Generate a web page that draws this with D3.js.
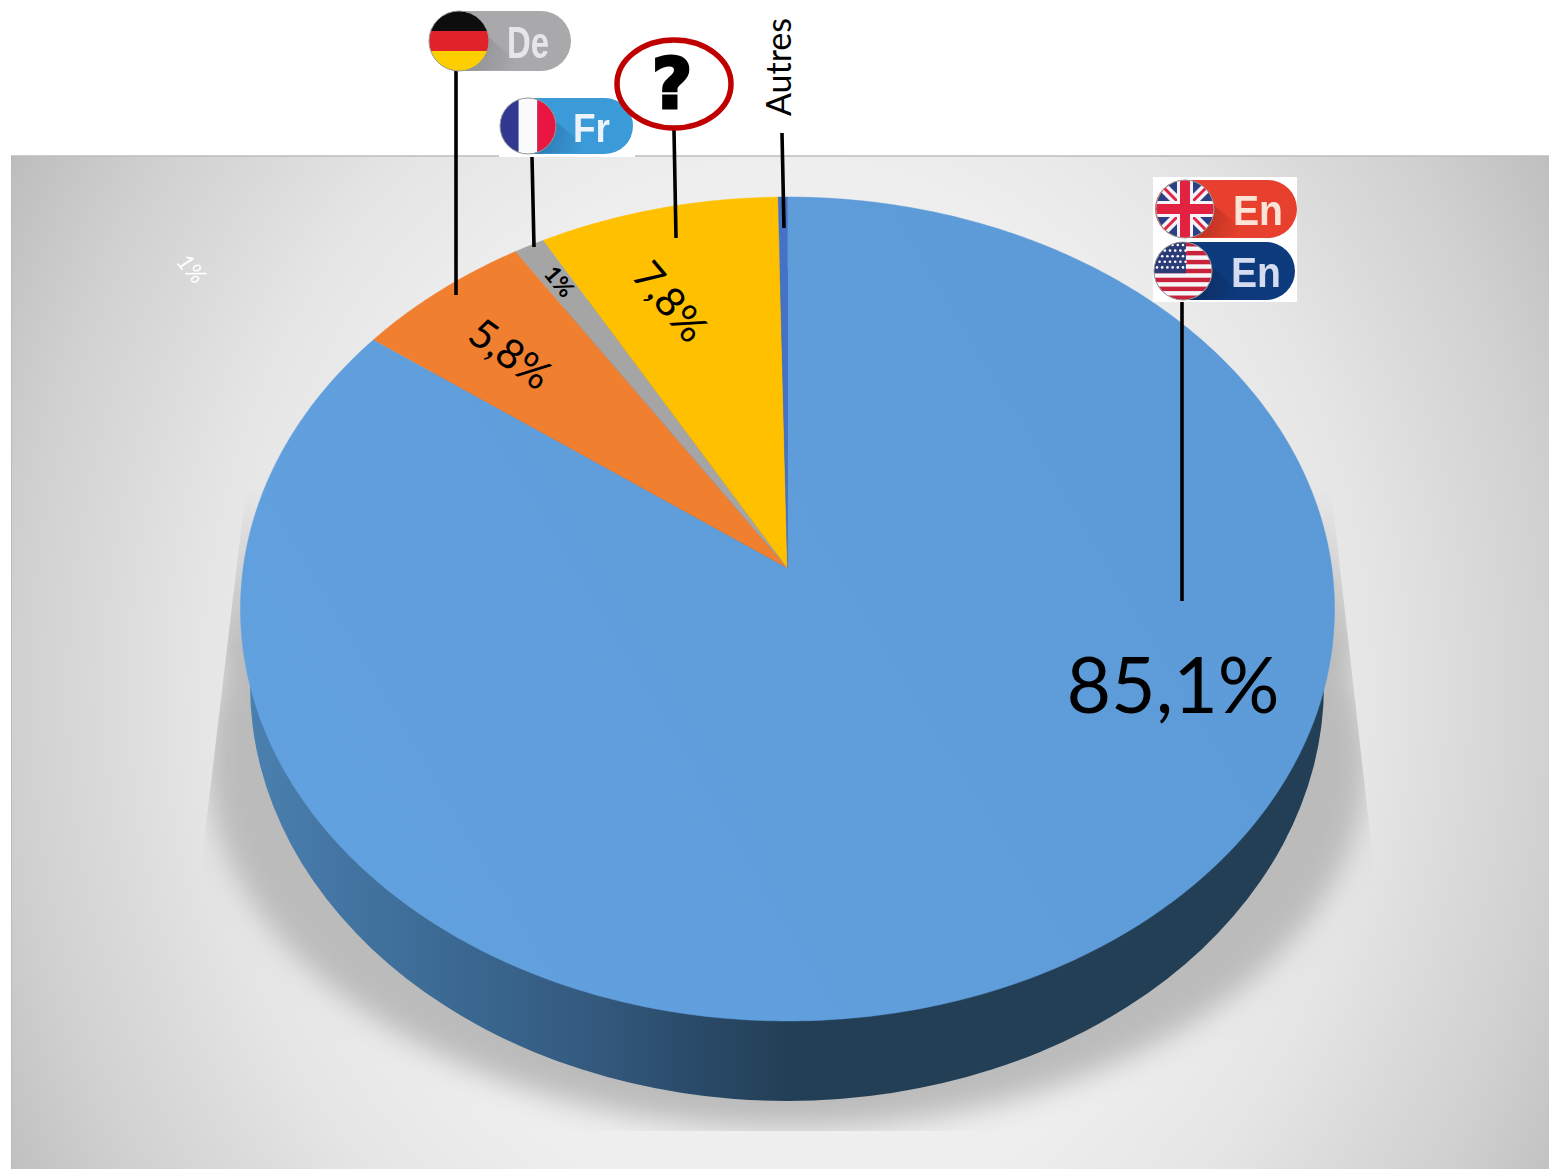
<!DOCTYPE html>
<html><head><meta charset="utf-8">
<script src="https://cdn.jsdelivr.net/npm/d3@7"></script>
<style>html,body{margin:0;padding:0;background:#fff}svg{display:block}</style>
</head><body><svg id="c" width="1549" height="1169"></svg>
<script>
const languages = ["En", "De", "Fr", "?", "Autres"];
const shares = [85.1, 5.8, 1, 7.8, 0.3];
const sliceColors = ["#5b9bd5", "#f07f30", "#a5a5a5", "#ffc000", "#4472c4"];
const valueLabels = ["85,1%", "5,8%", "1%", "7,8%"];
const ghostLabel = "1%";
const otherLabel = "Autres";

const svg = d3.select("#c");
const defs = svg.append("defs");
const F = "Lato, 'Open Sans', sans-serif";

function lin(id, x1, x2, stops, y1 = 0, y2 = 0) {
  const g = defs.append("linearGradient").attr("id", id).attr("gradientUnits", "userSpaceOnUse")
    .attr("x1", x1).attr("x2", x2).attr("y1", y1).attr("y2", y2);
  stops.forEach(s => g.append("stop").attr("offset", s[0]).attr("stop-color", s[1]));
}
// background plate
const bg = defs.append("radialGradient").attr("id", "bg").attr("gradientUnits", "userSpaceOnUse")
  .attr("cx", 0).attr("cy", 0).attr("r", 1)
  .attr("gradientTransform", "translate(787,690) scale(900,1050)");
[[0, "#f3f3f3"], [.5, "#eeeeee"], [.654, "#e5e5e5"], [.74, "#dcdcdc"], [.86, "#d0d0d0"], [1, "#bdbdbd"]]
  .forEach(s => bg.append("stop").attr("offset", s[0]).attr("stop-color", s[1]));
svg.append("rect").attr("x", 11).attr("y", 156).attr("width", 1538).attr("height", 1013).attr("fill", "url(#bg)");
svg.append("line").attr("x1", 11).attr("x2", 1549).attr("y1", 156).attr("y2", 156).attr("stroke", "#bdbdbd").attr("stroke-width", 1.5);
svg.append("line").attr("x1", 11.5).attr("x2", 11.5).attr("y1", 156).attr("y2", 1169).attr("stroke", "#b8b8b8").attr("stroke-width", 1);

// floor shadow
defs.append("filter").attr("id", "blur").attr("x", "-20%").attr("y", "-20%").attr("width", "140%").attr("height", "140%")
  .append("feGaussianBlur").attr("stdDeviation", 14);
defs.append("clipPath").attr("id", "shadowClip").append("polygon")
  .attr("points", "247,480 1330,480 1372,850 1372,1131 203,1131 203,850");
lin("fade", 0, 0, [[0, "#000"], [1, "#fff"]], 490, 650);
defs.append("mask").attr("id", "fadeMask").attr("maskUnits", "userSpaceOnUse")
  .attr("x", 0).attr("y", 0).attr("width", 1549).attr("height", 1169)
  .append("rect").attr("width", 1549).attr("height", 1169).attr("fill", "url(#fade)");
const shadow = svg.append("g").attr("clip-path", "url(#shadowClip)").append("g").attr("mask", "url(#fadeMask)").append("g").attr("filter", "url(#blur)");
shadow.append("ellipse").attr("cx", 787).attr("cy", 760).attr("rx", 580).attr("ry", 368).attr("fill", "#bbbbbb");
shadow.append("ellipse").attr("cx", 787).attr("cy", 620).attr("rx", 570).attr("ry", 430).attr("fill", "#bbbbbb");

// side wall
lin("side", 245, 1330, [[0, "#4a80b0"], [.19, "#3b6993"], [.33, "#33587c"], [.42, "#294a68"], [.5, "#233f56"], [1, "#233f56"]]);
svg.append("ellipse").attr("cx", 787).attr("cy", 685).attr("rx", 537).attr("ry", 416).attr("fill", "url(#side)");

// perspective projection of the pie disc
const apex = [787.5, 568], persp = -0.0995, scaleV = 407.9, scaleU = 544.3;
function project(angle, r) {
  const u = r * Math.sin(angle), v = -r * Math.cos(angle), w = 1 + persp * v;
  return [apex[0] + scaleU * u / w, apex[1] + scaleV * v / w];
}
const pie = d3.pie().sort(null).value(d => d.share);
const arcs = pie(languages.map((l, i) => ({ lang: l, share: shares[i], color: sliceColors[i] })));
const line = d3.line();
function wedge(d) {
  const n = Math.max(4, Math.ceil((d.endAngle - d.startAngle) * 90));
  const pts = d3.range(n + 1).map(i => project(d.startAngle + (d.endAngle - d.startAngle) * i / n, 1));
  return line([project(0, 0), ...pts]) + "Z";
}
lin("top", 300, 1300, [[0, "#62a1df"], [1, "#5b9ad6"]], 900, 300);
svg.append("g").selectAll("path").data(arcs).join("path")
  .attr("d", wedge)
  .attr("fill", (d, i) => i === 0 ? "url(#top)" : d.data.color)
  .attr("stroke", (d, i) => i === 0 ? "url(#top)" : d.data.color).attr("stroke-width", .5);

// value labels
function label(txt, x, y, size, rot, extra = {}) {
  const t = svg.append("text").attr("transform", `translate(${x},${y}) rotate(${rot})`)
    .attr("text-anchor", "middle").attr("dominant-baseline", "central")
    .attr("font-family", F).attr("font-size", size).attr("fill", "#000").text(txt);
  Object.entries(extra).forEach(([k, v]) => t.attr(k, v));
  return t;
}
label(valueLabels[0], 1173, 683, 77, 0);
label(valueLabels[1], 511, 353, 41, 36);
label(valueLabels[2], 560, 281, 23, 50, { "font-weight": 700 });
label(valueLabels[3], 671, 301, 41, 50);
label(ghostLabel, 192, 268, 23, 50, { fill: "#fff", "font-style": "italic" });
label(otherLabel, 777, 67, 34, -90);

// leader lines
const leaders = [[456, 70, 456, 295], [532, 157, 534, 247], [674, 130, 676, 238], [782, 133, 784, 228], [1182, 302, 1182, 601]];
svg.append("g").selectAll("line").data(leaders).join("line")
  .attr("x1", d => d[0]).attr("y1", d => d[1]).attr("x2", d => d[2]).attr("y2", d => d[3])
  .attr("stroke", "#000").attr("stroke-width", 3.6);

// language badges
defs.append("filter").attr("id", "soft").attr("x", "-5%").attr("y", "-5%").attr("width", "110%").attr("height", "110%")
  .append("feGaussianBlur").attr("stdDeviation", .6);
const badges = svg.append("g");
let cid = 0;
function badge(x, y, w, h, color, dark, cx, cy, r, text, textColor, paint, tx, tw) {
  const b = badges.append("g").attr("filter", "url(#soft)");
  b.append("rect").attr("x", x).attr("y", y).attr("width", w).attr("height", h).attr("rx", h / 2).attr("fill", color);
  const id = "b" + (cid++);
  const gid = "g" + id;
  lin(gid, cx, cx + r + 30, [[0, dark], [1, color]], cy, cy + 16);
  b.append("path").attr("d", `M${cx},${cy - r}L${cx + r + 36},${cy + r - 2}L${cx},${cy + r}Z`).attr("fill", `url(#${gid})`);
  b.append("text").attr("x", tx).attr("y", y + h / 2 + 1).attr("dominant-baseline", "central")
    .attr("font-family", "'Liberation Sans',sans-serif").attr("font-weight", 700)
    .attr("textLength", tw).attr("lengthAdjust", "spacingAndGlyphs")
    .attr("font-size", h * .74).attr("fill", textColor).text(text);
  defs.append("clipPath").attr("id", id).append("circle").attr("cx", cx).attr("cy", cy).attr("r", r);
  const g = b.append("g").attr("clip-path", `url(#${id})`);
  paint(g, cx - r, cy - r, r * 2);
  b.append("circle").attr("cx", cx).attr("cy", cy).attr("r", r).attr("fill", "none").attr("stroke", "#999").attr("stroke-width", 1);
}
function R(g, x, y, w, h, f) { g.append("rect").attr("x", x).attr("y", y).attr("width", w).attr("height", h).attr("fill", f); }

badge(429, 11, 142, 60, "#a9a9ab", "#8a8a8d", 459, 41, 30, "De", "#e6e6e8", (g, x, y, s) => {
  R(g, x, y, s, s / 3, "#0a0a0a"); R(g, x, y + s / 3, s, s / 3, "#e2232a"); R(g, x, y + 2 * s / 3, s, s / 3, "#fdcf00");
}, 507, 42);

badges.append("rect").attr("x", 499).attr("y", 97).attr("width", 136).attr("height", 60).attr("fill", "#fff");
badge(500, 98, 133, 56, "#3a9bd8", "#2a6fa8", 528, 126, 28, "Fr", "#eef2fa", (g, x, y, s) => {
  R(g, x, y, s / 3, s, "#33398f"); R(g, x + s / 3, y, s / 3, s, "#fbfbfd"); R(g, x + 2 * s / 3, y, s / 3, s, "#e8173f");
}, 573, 37);

// unknown
svg.append("ellipse").attr("cx", 674).attr("cy", 84).attr("rx", 57).attr("ry", 44)
  .attr("fill", "#fff").attr("stroke", "#c00000").attr("stroke-width", 5.5);
svg.append("text").attr("x", 672).attr("y", 84).attr("text-anchor", "middle").attr("dominant-baseline", "central")
  .attr("font-family", "'DejaVu Sans'").attr("font-weight", 700).attr("font-size", 70).attr("fill", "#000")
  .attr("stroke", "#000").attr("stroke-width", 3).text(languages[3]);

badges.append("rect").attr("x", 1153).attr("y", 177).attr("width", 144).attr("height", 125).attr("fill", "#fff");
badge(1155, 180, 142, 58, "#e8412d", "#a82c1e", 1185, 209, 29, "En", "#fbe3d8", (g, x, y, s) => {
  const xe = x + s, ye = y + s, cx = x + s / 2, cy = y + s / 2;
  R(g, x, y, s, s, "#2f3f85");
  [[x, y, xe, ye], [x, ye, xe, y]].forEach(l => {
    g.append("line").attr("x1", l[0]).attr("y1", l[1]).attr("x2", l[2]).attr("y2", l[3]).attr("stroke", "#f4f4f8").attr("stroke-width", 10);
    g.append("line").attr("x1", l[0]).attr("y1", l[1]).attr("x2", l[2]).attr("y2", l[3]).attr("stroke", "#e2233f").attr("stroke-width", 3);
  });
  R(g, cx - 8, y, 16, s, "#f4f4f8"); R(g, x, cy - 8, s, 16, "#f4f4f8");
  R(g, cx - 5, y, 10, s, "#e2233f"); R(g, x, cy - 5, s, 10, "#e2233f");
}, 1233, 50);
badge(1154, 242, 141, 58, "#0f3a7d", "#0a2a5c", 1183, 271, 29, "En", "#d6dcf0", (g, x, y, s) => {
  R(g, x, y, s, s, "#f6f6f8");
  d3.range(7).forEach(i => R(g, x, y + i * s * 2 / 13, s, s / 13, "#c8203c"));
  R(g, x, y, s * .55, s * 7 / 13, "#2c3a78");
  d3.range(5).forEach(r => d3.range(6).forEach(c => {
    g.append("circle").attr("cx", x + 3 + c * 5.2 + (r % 2) * 2.6).attr("cy", y + 3 + r * 5.6).attr("r", 1.3).attr("fill", "#fff");
  }));
}, 1231, 50);
</script></body></html>
